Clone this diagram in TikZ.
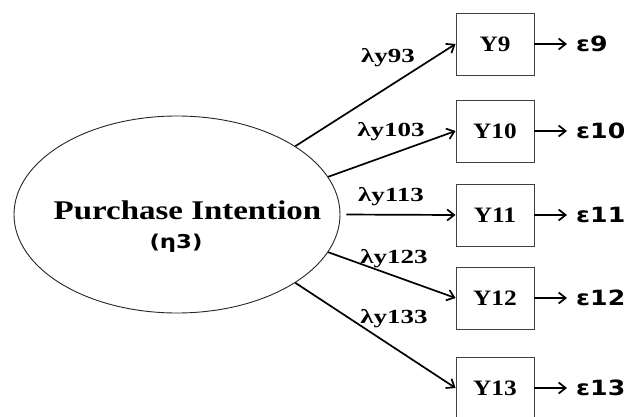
\documentclass[tikz,border=0pt]{standalone}
\usepackage{fontspec}
\setmainfont{Liberation Serif}
\newfontfamily\grksans{DejaVu Sans}
\usetikzlibrary{shapes.geometric,arrows.meta}
% horizontally widened text
\newcommand\stretchtext[2][1.25]{\scalebox{#1}[1]{#2}}
\begin{document}
\begin{tikzpicture}[x=1pt,y=-1pt,
  latent/.style={ellipse,draw=black!85,line width=0.9pt,
    minimum width=326pt,minimum height=197pt,inner sep=0pt},
  indicator/.style={rectangle,draw=black!75,line width=0.9pt,
    minimum width=78pt,minimum height=62pt,inner sep=0pt,
    font=\bfseries\fontsize{22}{22}\selectfont},
  loadlbl/.style={inner sep=0pt,font=\bfseries\fontsize{20}{20}\selectfont},
  errlbl/.style={anchor=west,inner xsep=9pt,inner ysep=1pt,
    font=\grksans\bfseries\fontsize{21}{21}\selectfont},
  load/.style={line width=1.7pt,-{Straight Barb[length=7pt,width=11pt]}},
  errarrow/.style={line width=1.7pt,-{Straight Barb[length=7pt,width=11pt]}}
]
\useasboundingbox[fill=white] (0,0) rectangle (629,417);

% latent construct
\node[latent] (pi) at (177,214.5) {};
\node[inner sep=0pt,font=\bfseries\fontsize{27}{27}\selectfont] (pitxt) at (187.5,210)
  {\stretchtext[1.22]{Purchase Intention}};
\node[inner sep=0pt,font=\grksans\bfseries\fontsize{19}{19}\selectfont] (pieta) at (176,243)
  {\stretchtext[1.2]{(η3)}};

% indicators
\node[indicator] (y9)  at (495,44)  {\stretchtext[1.15]{Y9}};
\node[indicator] (y10) at (495,131) {\stretchtext[1.15]{Y10}};
\node[indicator] (y11) at (495,215) {\stretchtext[1.15]{Y11}};
\node[indicator] (y12) at (495,298) {\stretchtext[1.15]{Y12}};
\node[indicator] (y13) at (495,388) {\stretchtext[1.15]{Y13}};

% error terms
\node[errlbl] (e9)  at (567,44)  {\stretchtext[1.2]{ε9}};
\node[errlbl] (e10) at (567,131) {\stretchtext[1.2]{ε10}};
\node[errlbl] (e11) at (567,215) {\stretchtext[1.2]{ε11}};
\node[errlbl] (e12) at (567,298) {\stretchtext[1.2]{ε12}};
\node[errlbl] (e13) at (567,388) {\stretchtext[1.2]{ε13}};

% loadings
\draw[load] (pi.30)  -- (y9.west);
\draw[load] (pi.14.5) -- (y10.west);
\draw[load,shorten <=6pt] (pi.0) -- (y11.west);
\draw[load] (pi.-14.9) -- (y12.west);
\draw[load] (pi.-30.9) -- (y13.west);

% loading labels
\node[loadlbl] (l9)  at (388,58)  {\stretchtext[1.35]{λy93}};
\node[loadlbl] (l10) at (391,132) {\stretchtext[1.35]{λy103}};
\node[loadlbl] (l11) at (391,197) {\stretchtext[1.35]{λy113}};
\node[loadlbl] (l12) at (394,259) {\stretchtext[1.35]{λy123}};
\node[loadlbl] (l13) at (394,319) {\stretchtext[1.35]{λy133}};

% error arrows
\foreach \k in {9,10,11,12,13}
  \draw[errarrow] (y\k.east) -- (e\k.west);
\end{tikzpicture}
\end{document}
